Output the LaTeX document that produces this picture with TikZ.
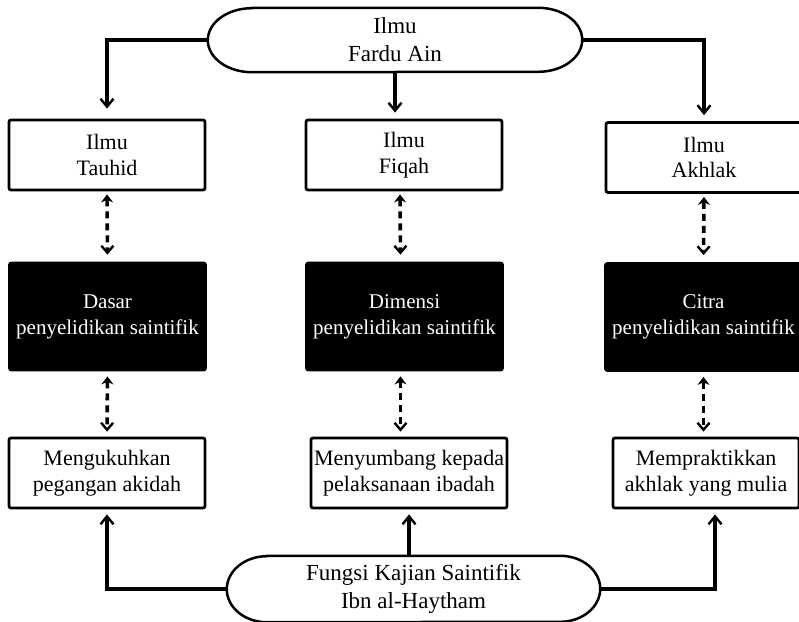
\documentclass[tikz,border=0pt]{standalone}
\usepackage{fontspec}
\setmainfont{Liberation Serif}
\usetikzlibrary{arrows.meta}
\tikzset{
  >={Straight Barb[length=8pt,width=13pt,line width=2.4pt]},
}
\tikzstyle{box}=[draw,line width=2.8pt,rounded corners=2pt,minimum width=196pt,minimum height=70pt,align=center,inner sep=0pt,font=\fontsize{22}{25.5}\selectfont]
\tikzstyle{darkbox}=[box,fill=black,text=white,minimum height=107pt,font=\fontsize{21}{26}\selectfont]
\tikzstyle{oval}=[minimum width=374pt,minimum height=64pt,align=center,inner sep=0pt,font=\fontsize{23}{28}\selectfont]
\tikzstyle{ovalline}=[line width=2.5pt]
\tikzstyle{link}=[line width=3.3pt,->,shorten >=6pt]
\tikzstyle{twoway}=[line width=3.6pt,dash pattern=on 7pt off 5pt,{Stealth[length=8pt,width=12pt]}-{Straight Barb[length=7pt,width=12pt,line width=2.4pt]}]

\begin{document}
\begin{tikzpicture}[x=1pt,y=-1pt]
  \useasboundingbox (0,0) rectangle (799,621);
  \clip (0,0) rectangle (799,621);
  % top
  \node[oval] (fardu) at (395,40) {Ilmu\\Fardu Ain};
  \draw[ovalline] ([xshift=44pt]fardu.north west) -- ([xshift=-44pt]fardu.north east)
    arc[start angle=90,end angle=-90,x radius=44pt,y radius=32pt]
    -- ([xshift=44pt]fardu.south west)
    arc[start angle=270,end angle=90,x radius=44pt,y radius=32pt] -- cycle;
  \node[box] (tauhid) at (107,155) {Ilmu\\Tauhid};
  \node[box] (fiqah) at (404,155) {Ilmu\\Fiqah};
  \node[box] (akhlak) at (704,157.5) {Ilmu\\Akhlak};
  % middle
  \node[darkbox] (dasar) at (107.5,316.5) {Dasar\\penyelidikan saintifik};
  \node[darkbox] (dimensi) at (404.5,316.5) {Dimensi\\penyelidikan saintifik};
  \node[darkbox] (citra) at (703.5,317) {Citra\\penyelidikan saintifik};
  % bottom
  \node[box] (akidah) at (107,473) {Mengukuhkan\\pegangan akidah};
  \node[box] (ibadah) at (409,473) {Menyumbang kepada\\pelaksanaan ibadah};
  \node[box,minimum width=186pt] (mulia) at (706,473) {Mempraktikkan\\akhlak yang mulia};
  \node[oval,minimum width=373pt,minimum height=66pt] (fungsi) at (413.5,589) {Fungsi Kajian Saintifik\\Ibn al-Haytham};
  \draw[ovalline] ([xshift=40pt]fungsi.north west) -- ([xshift=-40pt]fungsi.north east)
    arc[start angle=90,end angle=-90,x radius=40pt,y radius=33pt]
    -- ([xshift=40pt]fungsi.south west)
    arc[start angle=270,end angle=90,x radius=40pt,y radius=33pt] -- cycle;
  \coordinate (muliain) at ([xshift=9pt]mulia.south);
  % arrows
  \draw[link,shorten >=10pt] (fardu.west) -| (tauhid.north);
  \draw[link] (fardu.south) -- (fardu.south |- fiqah.north);
  \draw[link] (fardu.east) -| (akhlak.north);
  \draw[twoway,shorten <=3pt,shorten >=7pt] (tauhid.south) -- (dasar.north);
  \draw[twoway,shorten <=3pt,shorten >=7pt] ([xshift=-4pt]fiqah.south) -- ([xshift=-4pt]dimensi.north);
  \draw[twoway,shorten <=3pt,shorten >=7pt] (akhlak.south) -- (citra.north);
  \draw[twoway,shorten <=5pt,shorten >=5pt] (dasar.south) -- (akidah.north);
  \draw[twoway,shorten <=5pt,shorten >=5pt] ([xshift=-4pt]dimensi.south) -- ([xshift=-4pt]dimensi.south |- ibadah.north);
  \draw[twoway,shorten <=5pt,shorten >=5pt] (citra.south) -- (citra.south |- mulia.north);
  \draw[link,shorten >=5pt] (fungsi.west) -| (akidah.south);
  \draw[link,shorten >=5pt] (ibadah.south |- fungsi.north) -- (ibadah.south);
  \draw[link,shorten >=5pt] (fungsi.east) -| (muliain);
\end{tikzpicture}
\end{document}
